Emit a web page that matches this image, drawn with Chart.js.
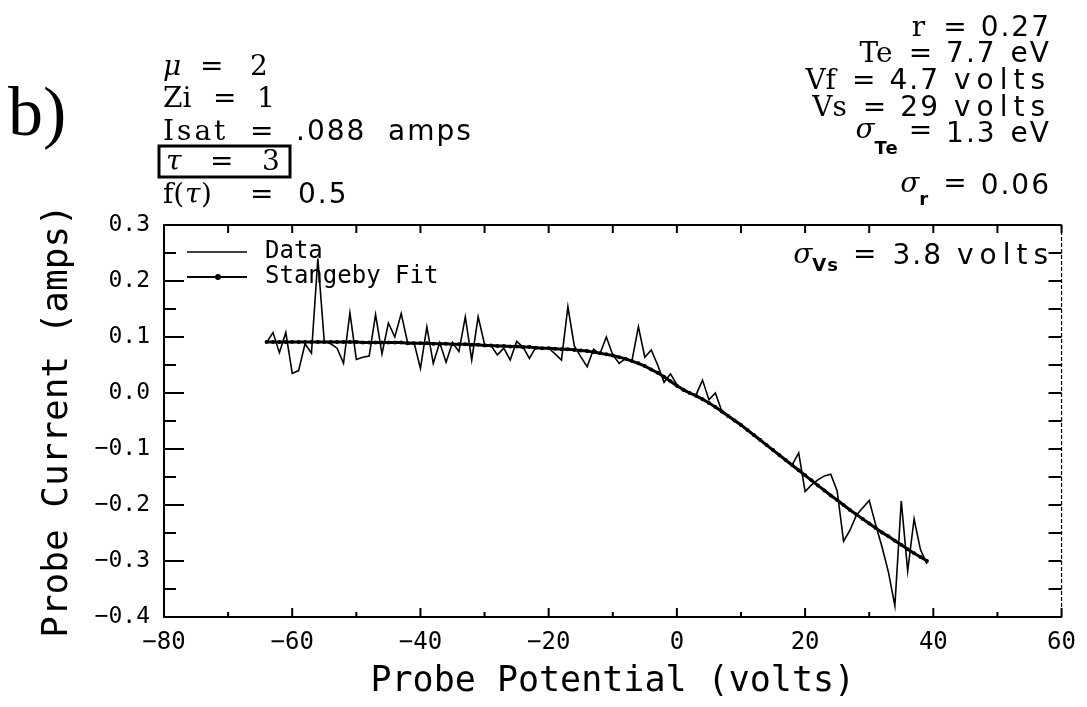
<!DOCTYPE html>
<html>
<head>
<meta charset="utf-8">
<script src="https://cdn.jsdelivr.net/npm/chart.js@4"></script>
<style>
  body { margin: 0; background: #fff; }
  canvas { display: block; }
</style>
</head>
<body>
<canvas id="probeChart" width="1087" height="707"></canvas>
<script>
const SERIF = "DejaVu Serif";
const SANS = "DejaVu Sans";
const MONO = "DejaVu Sans Mono";

// probe potential (volts), one sample per volt
const potential = [
  -64, -63, -62, -61, -60, -59, -58, -57, -56, -55, -54, -53, -52, -51, -50,
  -49, -48, -47, -46, -45, -44, -43, -42, -41, -40, -39, -38, -37, -36, -35,
  -34, -33, -32, -31, -30, -29, -28, -27, -26, -25, -24, -23, -22, -21, -20,
  -19, -18, -17, -16, -15, -14, -13, -12, -11, -10, -9, -8, -7, -6, -5,
  -4, -3, -2, -1, 0, 1, 2, 3, 4, 5, 6, 7, 8, 9, 10,
  11, 12, 13, 14, 15, 16, 17, 18, 19, 20, 21, 22, 23, 24, 25,
  26, 27, 28, 29, 30, 31, 32, 33, 34, 35, 36, 37, 38, 39,
];

// measured probe current (amps)
const measured = [
  0.090, 0.108, 0.072, 0.108, 0.035, 0.040, 0.088, 0.071, 0.240, 0.092, 0.088, 0.080, 0.053, 0.143, 0.060,
  0.064, 0.066, 0.140, 0.070, 0.125, 0.100, 0.142, 0.090, 0.090, 0.044, 0.118, 0.053, 0.090, 0.055, 0.090,
  0.074, 0.136, 0.059, 0.136, 0.087, 0.085, 0.068, 0.080, 0.059, 0.092, 0.082, 0.062, 0.082, 0.080, 0.080,
  0.070, 0.059, 0.154, 0.084, 0.065, 0.047, 0.078, 0.070, 0.100, 0.068, 0.053, 0.062, 0.058, 0.118, 0.064,
  0.077, 0.050, 0.019, 0.034, 0.015, 0.004, 0.000, -0.003, 0.023, -0.012, 0.000, -0.032, -0.040, -0.048, -0.056,
  -0.066, -0.075, -0.084, -0.093, -0.102, -0.110, -0.120, -0.128, -0.107, -0.176, -0.164, -0.155, -0.148, -0.145, -0.175,
  -0.265, -0.245, -0.218, -0.205, -0.192, -0.235, -0.275, -0.320, -0.380, -0.193, -0.318, -0.225, -0.280, -0.305,
];

// Stangeby fit (amps)
const fitted = [
  0.091, 0.091, 0.091, 0.091, 0.091, 0.091, 0.091, 0.091, 0.091, 0.091, 0.091, 0.091, 0.091, 0.091, 0.091,
  0.090, 0.090, 0.090, 0.090, 0.090, 0.090, 0.090, 0.089, 0.089, 0.089, 0.089, 0.088, 0.088, 0.088, 0.087,
  0.087, 0.087, 0.086, 0.086, 0.085, 0.085, 0.084, 0.084, 0.083, 0.083, 0.082, 0.082, 0.081, 0.080, 0.080,
  0.079, 0.078, 0.078, 0.077, 0.076, 0.075, 0.073, 0.071, 0.069, 0.067, 0.064, 0.061, 0.057, 0.053, 0.048,
  0.042, 0.036, 0.029, 0.021, 0.013, 0.006, 0.000, -0.005, -0.011, -0.018, -0.025, -0.033, -0.041, -0.049, -0.057,
  -0.066, -0.075, -0.084, -0.093, -0.102, -0.111, -0.120, -0.129, -0.138, -0.147, -0.156, -0.165, -0.174, -0.183, -0.191,
  -0.200, -0.209, -0.217, -0.225, -0.233, -0.241, -0.249, -0.256, -0.264, -0.271, -0.279, -0.286, -0.293, -0.300,
];

const legendLabels = ["Data", "Stangeby Fit"];

function fmt(v, digits) {
  if (Math.abs(v) < 1e-9) v = 0;
  return v.toFixed(digits).replace("-", "\u2212");
}

// ticks pointing into the plot on all four sides, plus top and right frame
const innerTicks = {
  id: "innerTicks",
  afterDraw(chart) {
    const { ctx, chartArea: a, scales: { x, y } } = chart;
    ctx.save();
    ctx.strokeStyle = "#000";
    ctx.lineWidth = 2;
    ctx.beginPath();
    ctx.moveTo(a.left, a.top);
    ctx.lineTo(a.right, a.top);
    ctx.stroke();
    ctx.save();
    ctx.lineWidth = 1.2;
    ctx.setLineDash([4, 2]);
    ctx.beginPath();
    ctx.moveTo(a.right, a.top);
    ctx.lineTo(a.right, a.bottom);
    ctx.stroke();
    ctx.restore();

    const yt = y.ticks.map((t) => t.value);
    const xt = x.ticks.map((t) => t.value);
    ctx.beginPath();
    yt.forEach((v, i) => {
      const py = y.getPixelForValue(v);
      ctx.moveTo(a.left, py); ctx.lineTo(a.left + 20, py);
      ctx.moveTo(a.right, py); ctx.lineTo(a.right - 13, py);
      if (i < yt.length - 1) {
        const pm = y.getPixelForValue((v + yt[i + 1]) / 2);
        ctx.moveTo(a.left, pm); ctx.lineTo(a.left + 12, pm);
        ctx.moveTo(a.right, pm); ctx.lineTo(a.right - 13, pm);
      }
    });
    xt.forEach((v, i) => {
      const px = x.getPixelForValue(v);
      ctx.moveTo(px, a.bottom); ctx.lineTo(px, a.bottom - 9);
      ctx.moveTo(px, a.top); ctx.lineTo(px, a.top + 8);
      if (i < xt.length - 1) {
        const pm = x.getPixelForValue((v + xt[i + 1]) / 2);
        ctx.moveTo(pm, a.bottom); ctx.lineTo(pm, a.bottom - 5);
        ctx.moveTo(pm, a.top); ctx.lineTo(pm, a.top + 8);
      }
    });
    ctx.stroke();
    ctx.restore();
  },
};

function put(ctx, text, font, x, base, spacing) {
  ctx.font = font;
  ctx.letterSpacing = (spacing || 0) + "px";
  ctx.fillText(text, x, base);
}

// right aligned run of pieces: [text, font, baseline, spacing, gapAfter]
function runRight(ctx, pieces, right) {
  let x = right;
  for (let i = pieces.length - 1; i >= 0; i--) {
    const [t, font, base, sp, gap] = pieces[i];
    ctx.font = font;
    ctx.letterSpacing = (sp || 0) + "px";
    x -= ctx.measureText(t).width + (gap || 0);
    ctx.fillText(t, x, base);
  }
}

const annotations = {
  id: "annotations",
  afterDraw(chart) {
    const ctx = chart.ctx;
    ctx.save();
    ctx.fillStyle = "#000";
    ctx.textBaseline = "alphabetic";
    ctx.textAlign = "left";

    const nm = "28px '" + SERIF + "'";
    const it = "italic 28px '" + SERIF + "'";
    const val = "28px '" + SANS + "'";
    const sub = "bold 18px '" + SANS + "'";

    put(ctx, "b)", "70px 'Liberation Serif'", 8, 135);

    put(ctx, "\u03bc", it, 163, 75);
    put(ctx, "=", nm, 200, 75);
    put(ctx, "2", nm, 250, 75);
    put(ctx, "Zi", nm, 163, 107);
    put(ctx, "=", nm, 213, 107);
    put(ctx, "1", nm, 257, 107);
    put(ctx, "Isat", nm, 163, 140, 3);
    put(ctx, "=", nm, 250, 140);
    put(ctx, ".088", val, 296, 140, 2);
    put(ctx, "amps", val, 388, 140, 2);
    put(ctx, "\u03c4", it, 166, 170);
    put(ctx, "=", nm, 210, 170);
    put(ctx, "3", nm, 262, 170);
    ctx.lineWidth = 3;
    ctx.strokeRect(159, 146, 131, 31);
    put(ctx, "f(", nm, 163, 203);
    put(ctx, "\u03c4", it, 185, 203);
    put(ctx, ")", nm, 201, 203);
    put(ctx, "=", nm, 250, 203);
    put(ctx, "0.5", val, 298, 203, 2);

    const R = 1051;
    runRight(ctx, [["r", nm, 36, 0, 18], ["=", nm, 36, 0, 14], ["0.27", val, 36, 2, 0]], R);
    runRight(ctx, [["Te", nm, 62, 0, 16], ["=", nm, 62, 0, 14], ["7.7", val, 62, 2, 14], ["eV", val, 62, 2, 0]], R);
    runRight(ctx, [["Vf", nm, 89, 0, 16], ["=", nm, 89, 0, 14], ["4.7", val, 89, 2, 14], ["volts", val, 89, 6, 0]], R);
    runRight(ctx, [["Vs", nm, 116, 0, 16], ["=", nm, 116, 0, 14], ["29", val, 116, 2, 14], ["volts", val, 116, 6, 0]], R);
    runRight(ctx, [["\u03c3", it, 138, 0, 0], ["Te", sub, 154, 1, 10], ["=", nm, 139, 0, 14], ["1.3", val, 142, 2, 14], ["eV", val, 142, 2, 0]], R);
    runRight(ctx, [["\u03c3", it, 192, 0, 0], ["r", sub, 205, 1, 14], ["=", nm, 192, 0, 14], ["0.06", val, 194, 2, 0]], R);
    runRight(ctx, [["\u03c3", it, 263, 0, 0], ["Vs", sub, 271, 1, 14], ["=", nm, 263, 0, 16], ["3.8", val, 264, 2, 14], ["volts", val, 264, 6, 0]], 1054);

    // legend
    ctx.letterSpacing = "0px";
    ctx.lineWidth = 1.6;
    ctx.beginPath();
    ctx.moveTo(187, 252); ctx.lineTo(247, 252);
    ctx.stroke();
    ctx.lineWidth = 2.2;
    ctx.beginPath();
    ctx.moveTo(187, 277); ctx.lineTo(247, 277);
    ctx.stroke();
    ctx.beginPath();
    ctx.arc(218, 277, 3, 0, Math.PI * 2);
    ctx.fill();
    ctx.font = "24px '" + MONO + "'";
    ctx.textBaseline = "middle";
    ctx.fillText(legendLabels[0], 265, 252);
    ctx.fillText(legendLabels[1], 265, 277);
    ctx.restore();
  },
};

const ctx = document.getElementById("probeChart").getContext("2d");

const data = {
  datasets: [
    {
      label: legendLabels[0],
      data: potential.map((v, i) => ({ x: v, y: measured[i] })),
      borderColor: "#000",
      borderWidth: 1.6,
      pointRadius: 0,
      tension: 0,
    },
    {
      label: legendLabels[1],
      data: potential.map((v, i) => ({ x: v, y: fitted[i] })),
      borderColor: "#000",
      backgroundColor: "#000",
      borderWidth: 3,
      pointRadius: 2,
      pointBorderWidth: 0,
      pointBackgroundColor: "#000",
      tension: 0,
    },
  ],
};

const config = {
  type: "line",
  data: data,
  options: {
    responsive: false,
    animation: false,
    layout: { padding: { top: 225, right: 22, left: 0, bottom: 0 } },
    plugins: {
      legend: { display: false },
      tooltip: { enabled: false },
    },
    scales: {
      x: {
        type: "linear",
        min: -80,
        max: 60,
        afterFit(scale) { scale.height = 90; },
        ticks: {
          stepSize: 20,
          padding: 11,
          color: "#000",
          font: { family: MONO, size: 24 },
          callback: (v) => fmt(v, 0),
        },
        grid: { display: false, drawTicks: false },
        border: { display: true, color: "#000", width: 2 },
        title: {
          display: true,
          text: "Probe Potential (volts)",
          color: "#000",
          font: { family: MONO, size: 35 },
          padding: { top: 0, bottom: 4 },
        },
      },
      y: {
        min: -0.4,
        max: 0.3,
        afterFit(scale) { scale.width = 164; },
        ticks: {
          stepSize: 0.1,
          padding: 14,
          color: "#000",
          font: { family: MONO, size: 23 },
          callback: (v) => fmt(v, 1),
        },
        grid: { display: false, drawTicks: false },
        border: { display: true, color: "#000", width: 2 },
        title: {
          display: true,
          text: "Probe Current (amps)",
          color: "#000",
          font: { family: MONO, size: 36 },
          padding: { top: 36, bottom: 0 },
        },
      },
    },
  },
  plugins: [innerTicks, annotations],
};

const myChart = new Chart(ctx, config);
</script>
</body>
</html>
